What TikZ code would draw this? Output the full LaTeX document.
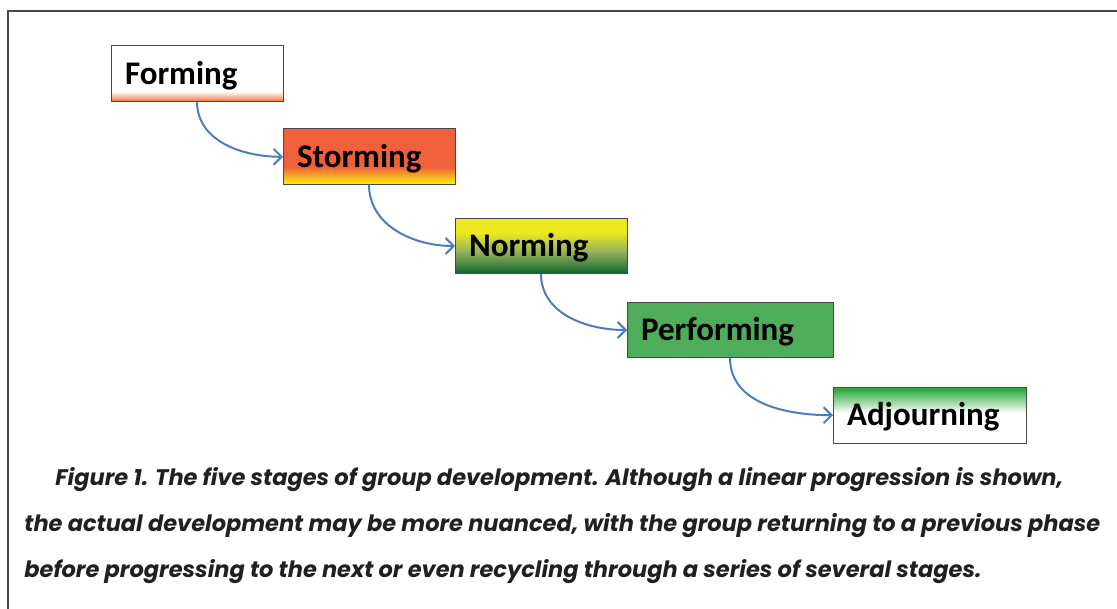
\documentclass[tikz,border=0pt]{standalone}
\usepackage{fontspec}
\setmainfont{Carlito}
\newfontfamily\captionfont{Poppins}
\usetikzlibrary{arrows.meta, positioning}
\definecolor{formorange}{RGB}{240, 112, 52}
\definecolor{stormorange}{RGB}{240, 96, 58}
\definecolor{stormyellow}{RGB}{250, 236, 12}
\definecolor{normyellow}{RGB}{236, 232, 30}
\definecolor{normmid}{RGB}{150, 178, 92}
\definecolor{normgreen}{RGB}{22, 105, 50}
\definecolor{perfgreen}{RGB}{78, 172, 90}
\definecolor{adjgreen}{RGB}{48, 170, 64}
\definecolor{arrowblue}{RGB}{74, 126, 193}
\definecolor{boxedge}{RGB}{72, 72, 72}
\definecolor{captiontext}{RGB}{35, 31, 32}
% vertical fills, 0bp = bottom of the box at 25bp, top at 75bp
\pgfdeclareverticalshading{formingfill}{100bp}{color(0bp)=(formorange); color(25bp)=(formorange); color(34bp)=(white); color(100bp)=(white)}
\pgfdeclareverticalshading{stormingfill}{100bp}{color(0bp)=(stormyellow); color(26bp)=(stormyellow); color(41bp)=(stormorange); color(100bp)=(stormorange)}
\pgfdeclareverticalshading{normingfill}{100bp}{color(0bp)=(normgreen); color(26bp)=(normgreen); color(45bp)=(normmid); color(62bp)=(normyellow); color(100bp)=(normyellow)}
\pgfdeclareverticalshading{adjourningfill}{100bp}{color(0bp)=(white); color(52bp)=(white); color(73bp)=(adjgreen); color(100bp)=(adjgreen)}
\tikzstyle{stage} = [rectangle, draw=boxedge, line width=0.5pt, outer sep=0pt, minimum height=27.8pt, inner xsep=7pt, inner ysep=0pt, text width=72pt, align=left, text height=10.5pt, text depth=0pt, font=\fontsize{16.5pt}{18pt}\selectfont\bfseries]
\tikzstyle{arrow} = [line width=1pt, draw=arrowblue, -{Straight Barb[length=4pt, width=8pt]}]

\begin{document}
\begin{tikzpicture}[x=0.5pt, y=-0.5pt]
\useasboundingbox (0,0) rectangle (1117,609);

% Frame
\draw [boxedge, line width=0.8pt] (8,609) |- (1117,11);

% Stages
\node (forming) [stage, shading=formingfill, anchor=north west] at (111,46) {Forming};
\node (storming) [stage, shading=stormingfill, below right=13.7pt and 0pt of forming] {Storming};
\node (norming) [stage, shading=normingfill, below right=16.8pt and 0pt of storming] {Norming};
\node (performing) [stage, fill=perfgreen, text width=89pt, below right=14.2pt and 0pt of norming] {Performing};
\node (adjourning) [stage, shading=adjourningfill, text width=82.5pt, below right=14.8pt and 0pt of performing] {Adjourning};

% Arrows
\draw [arrow] (forming.south) to[out=-90, in=180] (storming.west);
\draw [arrow] (storming.south) to[out=-90, in=180] (norming.west);
\draw [arrow] (norming.south) to[out=-90, in=180] (performing.west);
\draw [arrow] (performing.south) to[out=-90, in=180] (adjourning.west);

% Caption
\node (caption) [anchor=north west, inner sep=0pt, align=left, text=captiontext, font=\captionfont\bfseries\itshape\fontsize{11.25pt}{23pt}\selectfont] at (24,467)
  {\hspace*{15.5pt}Figure 1. The five stages of group development. Although a linear progression is shown,\\
   the actual development may be more nuanced, with the group returning to a previous phase\\
   before progressing to the next or even recycling through a series of several stages.};
\end{tikzpicture}
\end{document}
